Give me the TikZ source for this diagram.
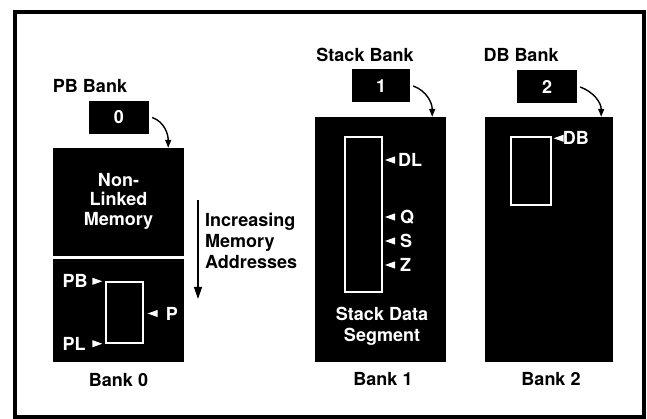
\documentclass[tikz,border=0pt]{standalone}
\usepackage{fontspec}
\setmainfont{TeX Gyre Heros}
\usetikzlibrary{arrows.meta}
\begin{document}
\begin{tikzpicture}[x=1pt,y=1pt,
  txt/.style={font=\bfseries\fontsize{18}{20}\selectfont, inner sep=0pt},
  wtxt/.style={txt, text=white},
  numbox/.style={fill=black, text=white, font=\bfseries\fontsize{18}{20}\selectfont,
                 minimum width=60pt, minimum height=33pt, inner sep=0pt},
  memblk/.style={fill=black, inner sep=0pt},
  seg/.style={draw=white, line width=1.4pt, inner sep=0pt},
  bankarrow/.style={-{Triangle[length=8pt,width=6pt]}, line width=1.4pt},
  ptrr/.pic={\fill[white] (0,0) -- (-10,3.6) -- (-10,-3.6) -- cycle;},
  ptrl/.pic={\fill[white] (0,0) -- (10,3.6) -- (10,-3.6) -- cycle;},
]
\useasboundingbox (0,0) rectangle (647,-419);
\draw[line width=4pt] (14.5,-12.5) rectangle (644,-417);

% ---------- Bank 0 ----------
\node[txt, anchor=base] (pbl) at (90,-93) {PB Bank};
\node[numbox] (n0) at (119,-117.5) {0};
\node[memblk, minimum width=131pt, minimum height=108pt] (m0a) at (118.5,-202) {};
\node[wtxt, align=center, anchor=north, font=\bfseries\fontsize{18}{19.5}\selectfont] (nl) at (118.5,-173) {Non-\\Linked\\Memory};
\node[memblk, minimum width=131pt, minimum height=103pt] (m0b) at (118.5,-310.5) {};
\node[seg, minimum width=37pt, minimum height=61pt] (s0) at (124.5,-312.5) {};
\pic at ([xshift=-3pt]s0.north west) {ptrr};
\pic at ([xshift=-3pt]s0.south west) {ptrr};
\pic at ([xshift=4pt,yshift=-1pt]s0.east) {ptrl};
\node[wtxt, anchor=west] (pb) at ([xshift=-43pt]s0.north west) {PB};
\node[wtxt, anchor=west] (pl) at ([xshift=-43pt]s0.south west) {PL};
\node[wtxt, anchor=west] (p) at ([xshift=22pt,yshift=-1pt]s0.east) {P};
\node[txt, anchor=base] (b0) at (118.5,-386) {Bank 0};
\draw[bankarrow] ([xshift=3pt]n0.east) to[out=-20,in=90] ([xshift=-16pt]m0a.north east);

% ---------- increasing addresses ----------
\coordinate (ia) at (198,-200);
\coordinate (ib) at (198,-299);
\draw[line width=1.3pt, -{Triangle[length=12pt,width=8pt]}] (ia) -- (ib);
\node[txt, align=left, anchor=north west, font=\bfseries\fontsize{18}{21}\selectfont] (inc) at (205,-213) {Increasing\\Memory\\Addresses};

% ---------- Bank 1 ----------
\node[txt, anchor=base] (sbl) at (365,-62) {Stack Bank};
\node[numbox, minimum width=58pt] (n1) at (381,-86) {1};
\node[memblk, minimum width=131pt, minimum height=245pt] (m1) at (380.5,-239.5) {};
\node[seg, minimum width=37pt, minimum height=155pt] (s1) at (363.5,-214.5) {};
\pic at (385,-160) {ptrl};
\pic at (385,-217) {ptrl};
\pic at (385,-241) {ptrl};
\pic at (385,-265) {ptrl};
\node[wtxt, anchor=west] (dl) at (398,-160) {DL};
\node[wtxt, anchor=west] (q) at (400,-217) {Q};
\node[wtxt, anchor=west] (s) at (400,-241) {S};
\node[wtxt, anchor=west] (z) at (400,-265) {Z};
\node[wtxt, align=center, anchor=north, font=\bfseries\fontsize{18}{21}\selectfont] (sds) at (382,-307) {Stack Data\\Segment};
\node[txt, anchor=base] (b1) at (383,-385.5) {Bank 1};
\draw[bankarrow] ([xshift=3pt]n1.east) to[out=-20,in=90] ([xshift=-14pt]m1.north east);

% ---------- Bank 2 ----------
\node[txt, anchor=base] (dbl) at (521,-62) {DB Bank};
\node[numbox] (n2) at (547,-87) {2};
\node[memblk, minimum width=128pt, minimum height=245pt] (m2) at (549,-239.5) {};
\node[seg, minimum width=40pt, minimum height=68pt] (s2) at (531,-171) {};
\pic at ([xshift=2pt,yshift=-2pt]s2.north east) {ptrl};
\node[wtxt, anchor=west] (db) at ([xshift=11pt,yshift=-2pt]s2.north east) {DB};
\node[txt, anchor=base] (b2) at (551,-385.5) {Bank 2};
\draw[bankarrow] ([xshift=3pt]n2.east) to[out=-20,in=90] ([xshift=-12pt]m2.north east);
\end{tikzpicture}
\end{document}
